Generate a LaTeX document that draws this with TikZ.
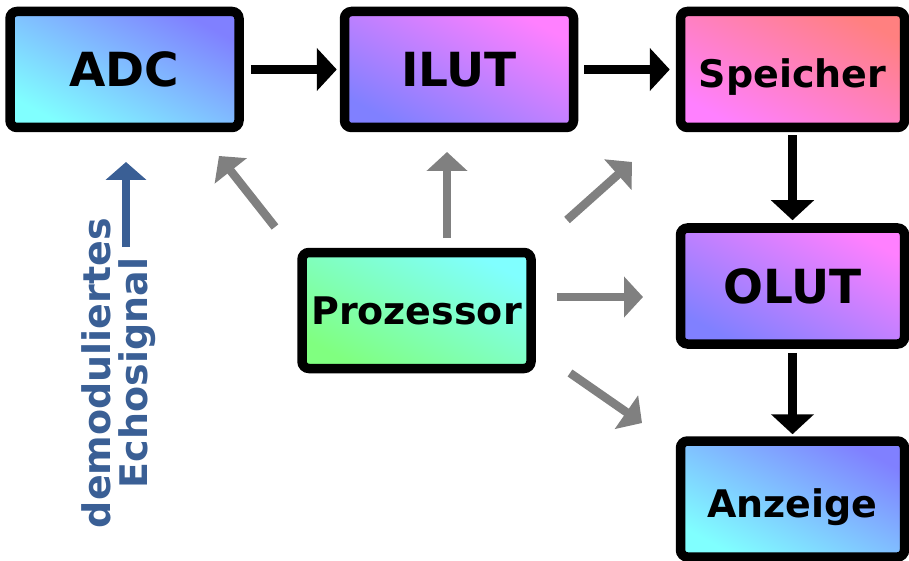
\documentclass[tikz,border=0pt]{standalone}
\usepackage{fontspec}
\setmainfont{DejaVu Sans}
\usetikzlibrary{arrows.meta}
\definecolor{cCyan}{HTML}{80FFFF}
\definecolor{cBlue}{HTML}{8080FF}
\definecolor{cPink}{HTML}{FF80FF}
\definecolor{cSalmon}{HTML}{FF8080}
\definecolor{cGreen}{HTML}{80FF80}
\definecolor{cGray}{HTML}{808080}
\definecolor{cSig}{HTML}{3A5F95}
\begin{document}
\begin{tikzpicture}[x=1pt,y=1pt,
  box/.style={draw=black, line width=9.5pt, rounded corners=7pt,
    minimum width=229pt, minimum height=116pt, inner sep=0pt,
    font=\fontsize{38}{40}\selectfont\bfseries},
  rbox/.style={box, minimum width=224pt},
  low/.style={text height=36pt, text depth=0pt},
  big/.style={font=\fontsize{47}{50}\selectfont\bfseries},
  grad/.style 2 args={bottom color=#1, top color=#2, shading angle=-28},
  flow/.style={line width=9pt, -{Triangle[width=42pt,length=20pt]}},
  ctrl/.style={line width=8.5pt, cGray, -{Triangle[width=40pt,length=19pt]}},
  sig/.style={line width=8pt, cSig, -{Triangle[width=40pt,length=18pt]}},
  sigtext/.style={text=cSig, rotate=90, align=center,
    font=\fontsize{38}{37}\selectfont\bfseries}]
\useasboundingbox (0,0) rectangle (909,-561);

\node[box, big, grad={cCyan}{cBlue}] (adc) at (124.5,-69.5) {ADC};
\node[box, big, grad={cBlue}{cPink}] (ilut) at (459,-69.5) {ILUT};
\node[rbox, low, grad={cPink}{cSalmon}] (spe) at (792.5,-69.5) {Speicher};
\node[rbox, big, grad={cBlue}{cPink}] (olut) at (792.5,-286) {OLUT};
\node[rbox, low, grad={cCyan}{cBlue}] (anz) at (792.5,-499) {Anzeige};
\node[box, grad={cGreen}{cCyan}] (pro) at (416.5,-310.5) {Prozessor};

\draw[flow, shorten <=7pt, shorten >=3pt] (adc.east) -- (ilut.west);
\draw[flow, shorten <=6pt, shorten >=6pt] (ilut.east) -- (spe.west);
\draw[flow, shorten <=3pt, shorten >=3pt] (spe.south) -- (olut.north);
\draw[flow, shorten <=4pt, shorten >=2pt] (olut.south) -- (anz.north);

\coordinate (t1) at (275,-227); \coordinate (h1) at (219,-156);
\coordinate (t2) at (447,-238); \coordinate (h2) at (447,-152);
\coordinate (t3) at (567,-220); \coordinate (h3) at (632,-162);
\coordinate (t4) at (557,-297); \coordinate (h4) at (643,-297);
\coordinate (t5) at (570,-373); \coordinate (h5) at (642,-423);
\draw[ctrl] (t1) -- (h1);
\draw[ctrl] (t2) -- (h2);
\draw[ctrl] (t3) -- (h3);
\draw[ctrl] (t4) -- (h4);
\draw[ctrl] (t5) -- (h5);

\coordinate (st) at (126,-247); \coordinate (sh) at (126,-162);
\draw[sig] (st) -- (sh);
\node[sigtext] (echo) at (119,-373) {demoduliertes\\Echosignal};
\end{tikzpicture}
\end{document}
